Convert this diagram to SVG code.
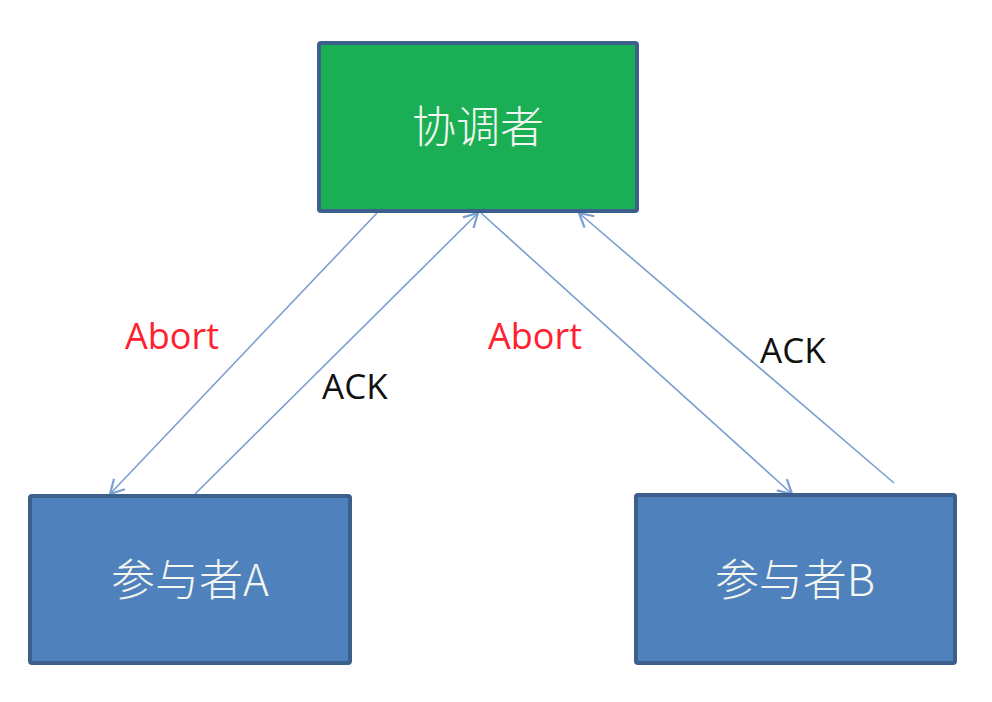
<svg xmlns="http://www.w3.org/2000/svg" width="992" height="702" viewBox="0 0 992 702">
<style>
.box{stroke:#3d5f8c;stroke-width:4}
.conn{stroke:#7b9fd0;stroke-width:1.6;fill:none;marker-end:url(#arr)}
.nt{font-family:"Noto Sans CJK SC","Open Sans",sans-serif;font-size:44px;font-weight:300;fill:#f4f6f0;text-anchor:middle;dominant-baseline:central}
.lbl{font-family:"Open Sans","Liberation Sans",sans-serif;font-size:35px}
.ab{font-size:36px;fill:#ff2030}
</style>
<defs>
<marker id="arr" markerUnits="userSpaceOnUse" markerWidth="20" markerHeight="20" viewBox="-12 -8 14 16" refX="0" refY="0" orient="auto">
<path d="M-11,-6 L0,0 L-11,6" fill="none" stroke="#7b9fd0" stroke-width="1.8"/>
</marker>
</defs>
<rect width="992" height="702" fill="#ffffff"/>
<g id="connectors">
<line class="conn" x1="377" y1="213" x2="110" y2="494"/>
<line class="conn" x1="195" y1="494" x2="478" y2="213"/>
<line class="conn" x1="481" y1="213" x2="792" y2="494"/>
<line class="conn" x1="894" y1="483" x2="579" y2="213"/>
</g>
<g id="labels">
<text class="lbl ab" x="125" y="349">Abort</text>
<text class="lbl" x="322" y="399" fill="#111111">ACK</text>
<text class="lbl ab" x="488" y="349">Abort</text>
<text class="lbl" x="760" y="363" fill="#111111">ACK</text>
</g>
<g id="coordinator">
<rect class="box" x="319" y="43" width="318" height="168" rx="2" fill="#1aaf54"/>
<text class="nt" x="478" y="124">协调者</text>
</g>
<g id="participantA">
<rect class="box" x="30" y="496" width="320" height="167" rx="2" fill="#4f81bd"/>
<text class="nt" x="190" y="577">参与者A</text>
</g>
<g id="participantB">
<rect class="box" x="636" y="495" width="319" height="168" rx="2" fill="#4f81bd"/>
<text class="nt" x="795" y="577">参与者B</text>
</g>
</svg>
